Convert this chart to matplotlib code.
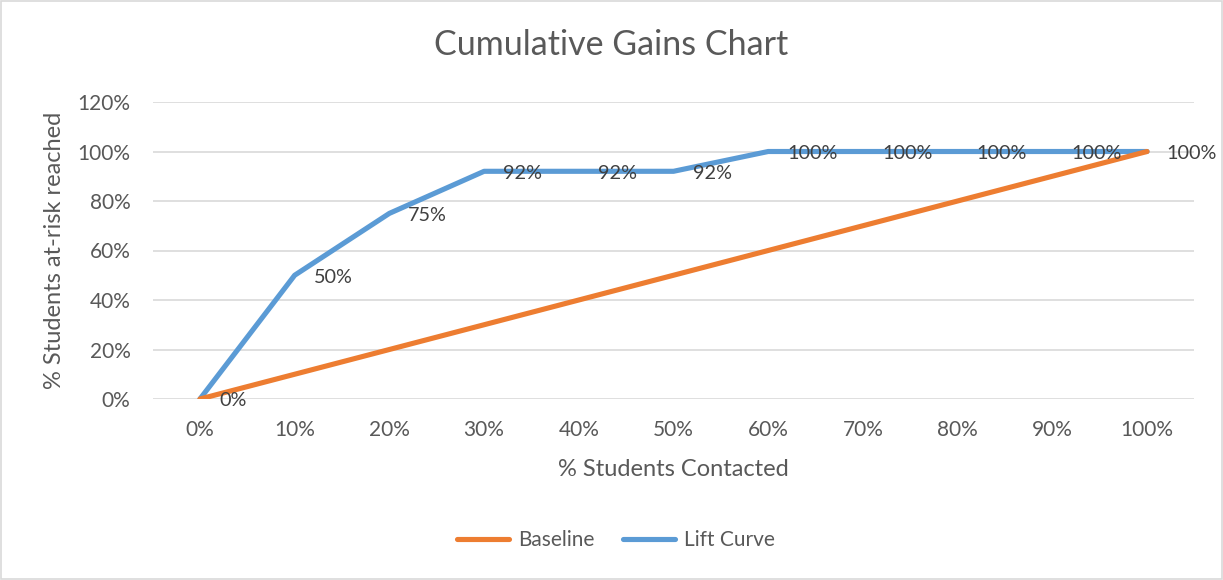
import matplotlib
matplotlib.use("Agg")
import matplotlib.pyplot as plt
from matplotlib.ticker import PercentFormatter
from matplotlib.patches import Rectangle

plt.rcParams['font.family'] = ['Lato', 'DejaVu Sans']

# data
contacted = ['0%', '10%', '20%', '30%', '40%', '50%', '60%', '70%', '80%', '90%', '100%']
baseline = [0.0, 0.1, 0.2, 0.3, 0.4, 0.5, 0.6, 0.7, 0.8, 0.9, 1.0]
lift = [0.0, 0.50, 0.75, 0.92, 0.92, 0.92, 1.0, 1.0, 1.0, 1.0, 1.0]
lift_labels = ['0%', '50%', '75%', '92%', '92%', '92%', '100%', '100%', '100%', '100%', '100%']

W, H = 1223, 580
fig = plt.figure(figsize=(W / 100, H / 100), dpi=100)
fig.patch.set_facecolor('white')
fig.add_artist(Rectangle((1 / W, 1 / H), 1 - 2 / W, 1 - 2 / H, transform=fig.transFigure,
                         fill=False, edgecolor='#d9d9d9', linewidth=1.2))

ax = fig.add_axes([152.6 / W, (H - 399) / H, (1194.4 - 152.6) / W, (399 - 102) / H])
xs = list(range(len(contacted)))

grey = '#595959'
ax.plot(xs, lift, color='#5b9bd5', linewidth=3.7, solid_capstyle='round',
        solid_joinstyle='round', label='Lift Curve', zorder=3)
ax.plot(xs, baseline, color='#ed7d31', linewidth=3.7, solid_capstyle='round',
        solid_joinstyle='round', label='Baseline', zorder=4)

for x, y, t in zip(xs, lift, lift_labels):
    ax.annotate(t, (x, y), xytext=(19, -2), textcoords='offset pixels',
                ha='left', va='center', fontsize=14.3, color='#404040', zorder=5)

ax.set_xlim(-0.5, len(contacted) - 0.5)
ax.set_ylim(0, 1.2)
ax.set_yticks([0, 0.2, 0.4, 0.6, 0.8, 1.0, 1.2])
ax.yaxis.set_major_formatter(PercentFormatter(1.0, decimals=0))
ax.set_xticks(xs)
ax.set_xticklabels(contacted)
ax.grid(axis='y', color='#d9d9d9', linewidth=1.2)
ax.set_axisbelow(True)
for s in ax.spines.values():
    s.set_visible(False)
ax.tick_params(axis='both', length=0, labelsize=15, labelcolor=grey)
ax.tick_params(axis='x', pad=15)
ax.tick_params(axis='y', pad=16)

ax.set_xlabel('% Students Contacted', fontsize=17, color=grey, labelpad=14)
ax.set_ylabel('% Students at-risk reached', fontsize=17, color=grey, labelpad=9)
fig.text(0.5, (H - 45) / H, 'Cumulative Gains Chart', ha='center', va='center',
         fontsize=24.5, color=grey)

handles, labels = ax.get_legend_handles_labels()
leg = fig.legend(handles[::-1], labels[::-1], loc='center', bbox_to_anchor=(616 / W, (H - 540) / H),
                 ncol=2, frameon=False, fontsize=15, handlelength=2.5, columnspacing=1.4,
                 handletextpad=0.4)
for t in leg.get_texts():
    t.set_color(grey)

fig.savefig('out.png', dpi=100)
